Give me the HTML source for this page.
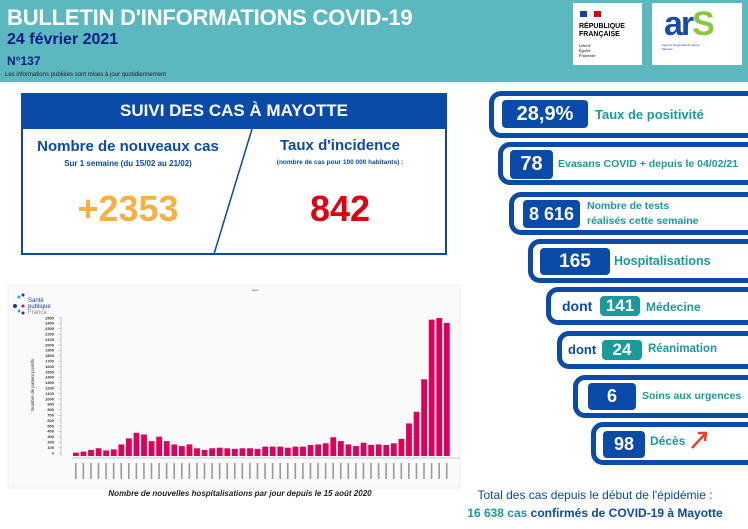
<!DOCTYPE html>
<html><head><meta charset="utf-8"><style>
*{margin:0;padding:0;box-sizing:border-box}
body{width:748px;height:529px;overflow:hidden;background:#fff;font-family:"Liberation Sans",sans-serif;position:relative}
.a{position:absolute}
.hdr{left:0;top:0;width:748px;height:82px;background:#5bb8bf}
.pill{position:absolute;right:-20px;border:5px solid #0a4aa8;border-radius:12px;background:#fff}
.vb{position:absolute;background:#0a4aa8;color:#fff;font-weight:bold;border-radius:4px;text-align:center}
.lbl{position:absolute;color:#1a9a9a;font-weight:bold;font-size:12px}
.tb{background:#1a9a9a}
</style></head><body>
<div class="a hdr"></div>
<div class="a" style="left:7px;top:5px;color:#fff;font-size:22px;font-weight:bold;letter-spacing:-0.2px">BULLETIN D'INFORMATIONS COVID-19</div>
<div class="a" style="left:7px;top:31px;color:#0d1a8a;font-size:16px;font-weight:bold">24 février 2021</div>
<div class="a" style="left:7px;top:54px;color:#0d1a8a;font-size:12px;font-weight:bold">N°137</div>
<div class="a" style="left:5px;top:72px;color:#222;font-size:6px">Les informations publiées sont mises à jour quotidiennement</div>
<div class="a" style="left:573px;top:3px;width:69px;height:62px;background:#fff">
 <div class="a" style="left:7px;top:8px;width:7px;height:6px;background:#1a3c9a"></div><div class="a" style="left:14px;top:8px;width:7px;height:6px;background:#eee"></div><div class="a" style="left:21px;top:8px;width:7px;height:6px;background:#e1000f"></div>
 <div class="a" style="left:6px;top:20px;font-size:7px;font-weight:bold;line-height:8px">RÉPUBLIQUE<br>FRANÇAISE</div>
 <div class="a" style="left:6px;top:40px;font-size:4px;font-style:italic;line-height:5px;font-family:'Liberation Serif',serif">Liberté<br>Égalité<br>Fraternité</div>
</div>
<div class="a" style="left:652px;top:3px;width:90px;height:62px;background:#fff">
 <div class="a" style="left:12px;top:2px;font-size:34px;color:#1a4aa8;font-weight:bold;letter-spacing:-2px">ar<span style="color:#8cc63f">S</span></div>
 <div class="a" style="left:10px;top:40px;font-size:3px;color:#1a4aa8">Agence Régionale de Santé<br>Mayotte</div>
</div>
<div class="a" style="left:21px;top:93px;width:426px;height:162px;border:2px solid #0a4aa8;background:#fff"></div>
<div class="a" style="left:21px;top:93px;width:426px;height:36px;background:#0a4aa8;color:#fff;font-size:17px;font-weight:bold;text-align:center;line-height:36px">SUIVI DES CAS À MAYOTTE</div>
<svg class="a" style="left:0;top:0" width="748" height="529"><line x1="252" y1="129" x2="214" y2="254" stroke="#0a4aa8" stroke-width="1.5"/></svg>
<div class="a" style="left:23px;top:138px;width:210px;text-align:center;color:#0a4aa8;font-size:15px;font-weight:bold">Nombre de nouveaux cas</div>
<div class="a" style="left:23px;top:159px;width:210px;text-align:center;color:#0a4aa8;font-size:8px;font-weight:bold">Sur 1 semaine (du 15/02 au 21/02)</div>
<div class="a" style="left:23px;top:188px;width:210px;text-align:center;color:#f9b043;font-size:36px;font-weight:bold">+2353</div>
<div class="a" style="left:235px;top:137px;width:210px;text-align:center;color:#0a4aa8;font-size:15px;font-weight:bold">Taux d'incidence</div>
<div class="a" style="left:235px;top:159px;width:210px;text-align:center;color:#0a4aa8;font-size:6.5px;font-weight:bold">(nombre de cas pour 100 000 habitants) :</div>
<div class="a" style="left:235px;top:188px;width:210px;text-align:center;color:#e1000f;font-size:36px;font-weight:bold">842</div>
<svg class="a" style="left:0;top:275px" width="470" height="230" font-family="Liberation Sans, sans-serif">
<rect x="8" y="10" width="452" height="203" fill="#fafafa" stroke="#f0f0f0"/>
<text x="255" y="16" font-size="3" text-anchor="middle" fill="#555">Jours</text>
<circle cx="19" cy="22" r="1.5" fill="#2aa8e0"/><circle cx="23" cy="20" r="1.5" fill="#1a3c9a"/><circle cx="15" cy="31" r="2" fill="#1a3c9a"/><circle cx="23" cy="31" r="1.5" fill="#e6005c"/><circle cx="19" cy="36" r="1.5" fill="#2aa8e0"/><circle cx="23" cy="38" r="1.5" fill="#1a3c9a"/>
<text x="28" y="27" font-size="6" fill="#1a3c9a">Santé</text><text x="28" y="33" font-size="6" fill="#1a3c9a">publique</text><text x="28" y="39" font-size="6" fill="#888">France</text>
<text x="34" y="110" font-size="4.5" fill="#333" transform="rotate(-90 34 110)" text-anchor="middle">Nombre de patient positifs</text>
<g font-size="4" font-weight="bold" fill="#333" text-anchor="end" id="yl"></g>
<line x1="61" y1="42" x2="61" y2="181" stroke="#999" stroke-width="0.5"/>
<line x1="72" y1="183" x2="460" y2="183" stroke="#999" stroke-width="0.5"/>
<g id="bars" fill="#e0005a"></g>
<text x="240" y="221" font-size="8" font-weight="bold" font-style="italic" text-anchor="middle" fill="#222">Nombre de nouvelles hospitalisations par jour depuis le 15 août 2020</text>
</svg>
<script>
var yl=document.getElementById('yl'),s='';
for(var v=0;v<=2500;v+=100){var y=178-v*135/2500;s+='<text x="54" y="'+(y+1.3)+'">'+v+'</text><line x1="58" x2="61" y1="'+y+'" y2="'+y+'" stroke="#999" stroke-width="0.4"/>';}
yl.innerHTML=s;
var d=[60,80,110,140,100,120,210,320,420,390,270,350,270,210,180,210,140,110,140,150,140,130,140,140,130,170,170,170,150,170,170,200,210,230,340,270,210,180,240,200,210,200,230,310,590,800,1390,2470,2500,2410];
var b='';for(var i=0;i<d.length;i++){var x=73+i*7.57,h=d[i]*138/2500;b+='<rect x="'+x+'" y="'+(181-h)+'" width="5.8" height="'+h+'"/><rect x="'+(x+2)+'" y="188" width="1.6" height="16" fill="#999"/>';}
document.getElementById('bars').innerHTML=b;
</script>
<div class="pill" style="left:489px;top:91px;height:47px"></div>
<div class="vb" style="left:502px;top:100px;width:86px;height:28px;font-size:20px;line-height:28px">28,9%</div>
<div class="lbl" style="left:595px;top:107px;font-size:13px">Taux de positivité</div>
<div class="pill" style="left:498px;top:142px;height:43px"></div>
<div class="vb" style="left:510px;top:150px;width:43px;height:29px;font-size:20px;line-height:29px">78</div>
<div class="lbl" style="left:558px;top:158px;font-size:10.5px">Evasans COVID + depuis le 04/02/21</div>
<div class="pill" style="left:509px;top:192px;height:43px"></div>
<div class="vb" style="left:523px;top:200px;width:57px;height:28px;font-size:18px;line-height:28px">8 616</div>
<div class="lbl" style="left:587px;top:199px;font-size:10.5px;line-height:15px">Nombre de tests<br>réalisés cette semaine</div>
<div class="pill" style="left:528px;top:239px;height:44px"></div>
<div class="vb" style="left:540px;top:248px;width:70px;height:27px;font-size:19px;line-height:27px">165</div>
<div class="lbl" style="left:614px;top:254px;font-size:12.5px">Hospitalisations</div>
<div class="pill" style="left:546px;top:287px;height:38px"></div>
<div class="a" style="left:562px;top:298px;color:#0a4aa8;font-weight:bold;font-size:14px">dont</div>
<div class="vb tb" style="left:600px;top:296px;width:40px;height:20px;font-size:17px;line-height:20px">141</div>
<div class="lbl" style="left:646px;top:300px;font-size:12px">Médecine</div>
<div class="pill" style="left:557px;top:331px;height:38px"></div>
<div class="a" style="left:568px;top:342px;color:#0a4aa8;font-weight:bold;font-size:13px">dont</div>
<div class="vb tb" style="left:602px;top:340px;width:40px;height:20px;font-size:17px;line-height:20px">24</div>
<div class="lbl" style="left:648px;top:343px;font-size:11.5px">Réanimation</div>
<div class="pill" style="left:573px;top:375px;height:43px"></div>
<div class="vb" style="left:588px;top:383px;width:48px;height:27px;font-size:18px;line-height:27px">6</div>
<div class="lbl" style="left:642px;top:390px;font-size:10.5px">Soins aux urgences</div>
<div class="pill" style="left:591px;top:422px;height:43px"></div>
<div class="vb" style="left:603px;top:431px;width:42px;height:27px;font-size:18px;line-height:27px">98</div>
<div class="lbl" style="left:650px;top:434px;font-size:12px">Décès</div>
<svg class="a" style="left:688px;top:428px" width="24" height="24"><path d="M4 20 L18 5 M10 5 L18 5 L17 13" stroke="#e8402a" stroke-width="2.5" fill="none"/></svg>
<div class="a" style="left:440px;top:488px;width:310px;text-align:center;color:#0a4aa8;font-size:12px">Total des cas depuis le début de l'épidémie :</div>
<div class="a" style="left:440px;top:506px;width:310px;text-align:center;color:#0a4aa8;font-size:12px;font-weight:bold"><span style="color:#1a9a9a">16 638 cas</span> confirmés de COVID-19 à Mayotte</div>
</body></html>
